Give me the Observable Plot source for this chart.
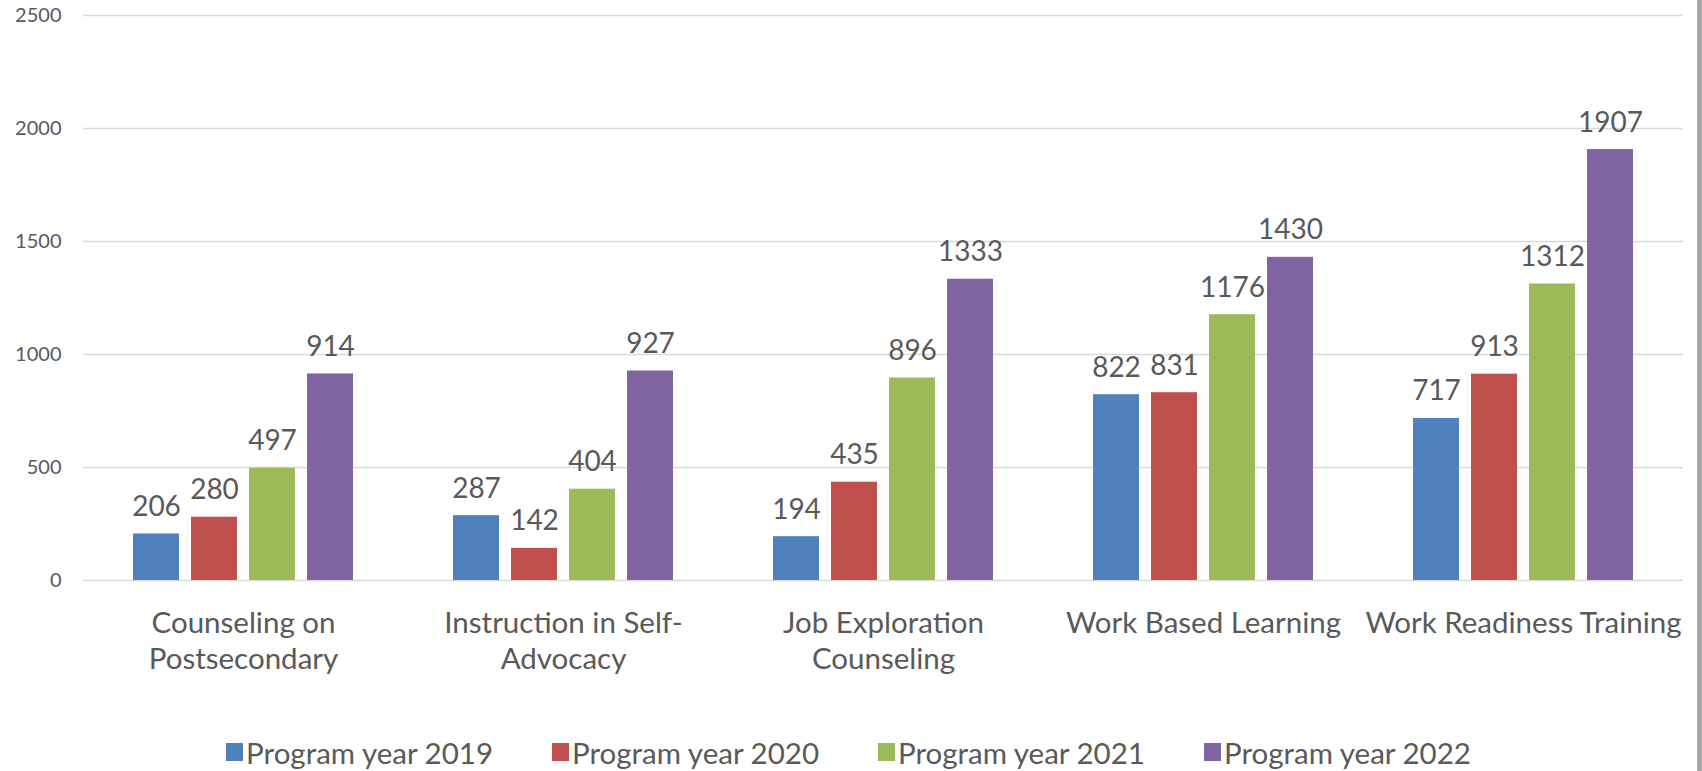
<!DOCTYPE html>
<html>
<head>
<meta charset="utf-8">
<script src="https://cdn.jsdelivr.net/npm/d3@7"></script>
<script src="https://cdn.jsdelivr.net/npm/@observablehq/plot@0.6"></script>
<style>
  html, body { margin: 0; padding: 0; background: #fff; }
  body { position: relative; width: 1697px; height: 771px; border-right: 5px solid #a6a6a6; overflow: hidden; font-family: Lato, sans-serif; }
  #chart svg { display: block; }
  #legend { position: absolute; left: 0; top: 736px; width: 1697px; height: 32px; display: flex; justify-content: center; align-items: center; gap: 59px; color: #595959; font-size: 29.5px; }
  #legend .item { display: flex; align-items: center; gap: 3px; }
  #legend .sw { width: 17px; height: 18px; display: inline-block; }
</style>
</head>
<body>
<div id="chart"></div>
<div id="legend"></div>
<script>
const categories = ["Counseling on Postsecondary", "Instruction in Self-Advocacy", "Job Exploration Counseling", "Work Based Learning", "Work Readiness Training"];
const categoryLabels = ["Counseling on\nPostsecondary", "Instruction in Self-\nAdvocacy", "Job Exploration\nCounseling", "Work Based Learning", "Work Readiness Training"];
const seriesNames = ["Program year 2019", "Program year 2020", "Program year 2021", "Program year 2022"];
const py2019 = [206, 287, 194, 822, 717];
const py2020 = [280, 142, 435, 831, 913];
const py2021 = [497, 404, 896, 1176, 1312];
const py2022 = [914, 927, 1333, 1430, 1907];
const seriesColors = ["#4F81BD", "#C0504D", "#9BBB59", "#8064A2"];
const yTicks = [0, 500, 1000, 1500, 2000, 2500];

const seriesValues = [py2019, py2020, py2021, py2022];
const data = [];
categories.forEach((c, i) => {
  seriesNames.forEach((s, j) => {
    data.push({category: c, series: s, value: seriesValues[j][i]});
  });
});

const chart = Plot.plot({
  width: 1697,
  height: 715,
  marginLeft: 82,
  marginRight: 14,
  marginTop: 15,
  marginBottom: 135,
  style: {fontFamily: "Lato, sans-serif", fontSize: "20px", color: "#595959", background: "#fff"},
  fx: {domain: categories, padding: 0, label: null},
  x: {domain: seriesNames, paddingInner: 0.21, paddingOuter: 0.85, axis: null},
  y: {domain: [0, 2500], label: null},
  color: {domain: seriesNames, range: seriesColors},
  marks: [
    Plot.gridY(yTicks, {stroke: "#d9d9d9", strokeOpacity: 1, strokeWidth: 1.3}),
    Plot.axisY(yTicks, {tickSize: 0, tickPadding: 22, fontSize: 20, fill: "#595959", label: null, tickFormat: d => String(d)}),
    Plot.barY(data, {fx: "category", x: "series", y: "value", fill: "series"}),
    Plot.text(data, {fx: "category", x: "series", y: "value", text: d => String(d.value), lineAnchor: "bottom", dy: -18, fontSize: 28, fill: "#595959"}),
    Plot.axisFx({anchor: "bottom", tickSize: 0, tickPadding: 27, fontSize: 29.5, lineHeight: 1.22, fill: "#595959", label: null,
      tickFormat: d => categoryLabels[categories.indexOf(d)]})
  ]
});
document.getElementById("chart").appendChild(chart);

const legend = document.getElementById("legend");
seriesNames.forEach((s, j) => {
  const item = document.createElement("div");
  item.className = "item";
  const sw = document.createElement("span");
  sw.className = "sw";
  sw.style.background = seriesColors[j];
  const label = document.createElement("span");
  label.textContent = s;
  item.appendChild(sw);
  item.appendChild(label);
  legend.appendChild(item);
});
</script>
</body>
</html>
